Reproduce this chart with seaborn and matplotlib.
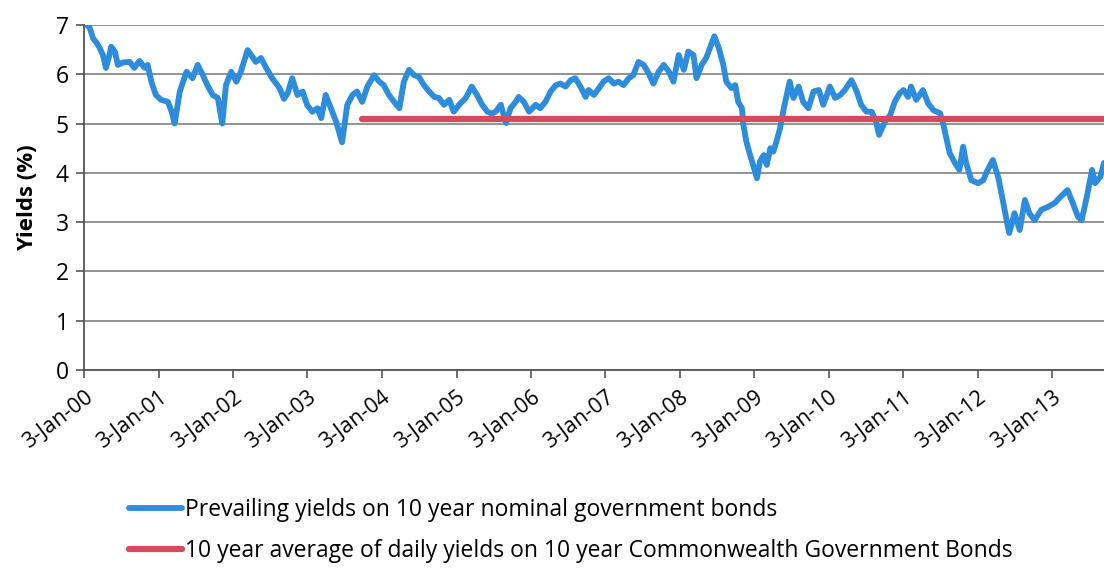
import pandas as pd
import numpy as np
import seaborn as sns
import matplotlib.pyplot as plt
from matplotlib.lines import Line2D

year_pos = [
    2000.01, 2000.08, 2000.13, 2000.17, 2000.21, 2000.26, 2000.30, 2000.34, 2000.37, 2000.42,
    2000.46, 2000.53, 2000.62, 2000.68, 2000.75, 2000.82, 2000.86, 2000.91, 2000.97, 2001.04,
    2001.13, 2001.18, 2001.22, 2001.29, 2001.38, 2001.46, 2001.53, 2001.60, 2001.66, 2001.73,
    2001.80, 2001.86, 2001.91, 2001.98, 2002.05, 2002.11, 2002.20, 2002.25, 2002.31, 2002.38,
    2002.45, 2002.53, 2002.63, 2002.69, 2002.74, 2002.80, 2002.87, 2002.94, 2003.00, 2003.07,
    2003.14, 2003.19, 2003.25, 2003.32, 2003.39, 2003.47, 2003.54, 2003.61, 2003.67, 2003.74,
    2003.81, 2003.90, 2003.97, 2004.03, 2004.10, 2004.17, 2004.24, 2004.30, 2004.37, 2004.44,
    2004.50, 2004.57, 2004.64, 2004.71, 2004.77, 2004.84, 2004.91, 2004.97, 2005.04, 2005.13,
    2005.21, 2005.28, 2005.35, 2005.42, 2005.48, 2005.53, 2005.60, 2005.67, 2005.73, 2005.80,
    2005.84, 2005.91, 2005.98, 2006.07, 2006.13, 2006.20, 2006.27, 2006.34, 2006.40, 2006.47,
    2006.54, 2006.60, 2006.67, 2006.74, 2006.78, 2006.85, 2006.92, 2006.98, 2007.05, 2007.12,
    2007.18, 2007.25, 2007.32, 2007.38, 2007.45, 2007.52, 2007.59, 2007.65, 2007.72, 2007.79,
    2007.86, 2007.92, 2007.99, 2008.06, 2008.12, 2008.19, 2008.23, 2008.30, 2008.36, 2008.41,
    2008.47, 2008.53, 2008.59, 2008.63, 2008.70, 2008.75, 2008.79, 2008.84, 2008.86, 2008.90,
    2008.95, 2008.99, 2009.04, 2009.08, 2009.13, 2009.17, 2009.22, 2009.26, 2009.30, 2009.35,
    2009.40, 2009.44, 2009.48, 2009.53, 2009.60, 2009.66, 2009.73, 2009.80, 2009.87, 2009.93,
    2010.02, 2010.09, 2010.16, 2010.22, 2010.31, 2010.38, 2010.44, 2010.51, 2010.58, 2010.64,
    2010.68, 2010.76, 2010.83, 2010.89, 2010.96, 2011.01, 2011.07, 2011.11, 2011.18, 2011.27,
    2011.34, 2011.41, 2011.50, 2011.54, 2011.58, 2011.63, 2011.70, 2011.76, 2011.81, 2011.85,
    2011.92, 2012.01, 2012.08, 2012.14, 2012.21, 2012.28, 2012.35, 2012.41, 2012.43, 2012.50,
    2012.57, 2012.64, 2012.70, 2012.77, 2012.86, 2012.95, 2013.04, 2013.12, 2013.21, 2013.28,
    2013.35, 2013.40, 2013.47, 2013.54, 2013.58, 2013.65, 2013.70,
]
yields = [
    7.05, 6.95, 6.72, 6.65, 6.55, 6.39, 6.13, 6.35, 6.56, 6.46,
    6.19, 6.24, 6.25, 6.13, 6.27, 6.13, 6.19, 5.85, 5.58, 5.48,
    5.44, 5.24, 5.00, 5.65, 6.05, 5.92, 6.19, 5.98, 5.78, 5.58,
    5.52, 5.00, 5.78, 6.05, 5.85, 6.05, 6.49, 6.39, 6.25, 6.33,
    6.13, 5.92, 5.72, 5.50, 5.62, 5.92, 5.58, 5.65, 5.38, 5.24,
    5.31, 5.11, 5.58, 5.31, 5.04, 4.62, 5.38, 5.58, 5.65, 5.44,
    5.75, 5.98, 5.85, 5.78, 5.58, 5.44, 5.31, 5.85, 6.09, 5.98,
    5.95, 5.78, 5.65, 5.54, 5.52, 5.38, 5.48, 5.24, 5.38, 5.52,
    5.75, 5.58, 5.38, 5.24, 5.20, 5.24, 5.38, 5.01, 5.31, 5.44,
    5.54, 5.44, 5.24, 5.38, 5.31, 5.44, 5.65, 5.78, 5.81, 5.75,
    5.88, 5.92, 5.75, 5.54, 5.68, 5.58, 5.72, 5.85, 5.92, 5.81,
    5.85, 5.78, 5.92, 5.98, 6.25, 6.19, 6.01, 5.81, 6.05, 6.19,
    6.05, 5.85, 6.39, 6.09, 6.46, 6.39, 5.92, 6.19, 6.33, 6.53,
    6.77, 6.53, 6.19, 5.85, 5.72, 5.78, 5.44, 5.31, 4.97, 4.63,
    4.36, 4.16, 3.89, 4.23, 4.36, 4.16, 4.50, 4.43, 4.63, 4.90,
    5.31, 5.58, 5.85, 5.52, 5.75, 5.44, 5.31, 5.65, 5.68, 5.38,
    5.75, 5.52, 5.58, 5.68, 5.88, 5.65, 5.38, 5.24, 5.24, 5.04,
    4.77, 5.04, 5.17, 5.44, 5.62, 5.68, 5.54, 5.75, 5.48, 5.68,
    5.41, 5.27, 5.21, 5.01, 4.73, 4.40, 4.20, 4.06, 4.53, 4.20,
    3.85, 3.79, 3.85, 4.06, 4.26, 3.92, 3.39, 2.91, 2.78, 3.18,
    2.84, 3.45, 3.18, 3.04, 3.25, 3.31, 3.39, 3.52, 3.65, 3.39,
    3.11, 3.04, 3.52, 4.06, 3.79, 3.92, 4.20,
]

# 10 year average line
avg_pos = [2003.74, 2013.70]
avg_vals = [5.09, 5.09]

tick_years = list(range(2000, 2014))
labels = ["Prevailing yields on 10 year nominal government bonds",
          "10 year average of daily yields on 10 year Commonwealth Government Bonds"]

BLUE = "#2d8cdb"
RED = "#d64a5e"


def to_date(y):
    base = pd.Timestamp(year=int(y), month=1, day=1)
    return base + pd.Timedelta(days=(y - int(y)) * 365.25)


df = pd.DataFrame({"date": [to_date(v) for v in year_pos], "yield": yields})
df_avg = pd.DataFrame({"date": [to_date(v) for v in avg_pos], "yield": avg_vals})

sns.set_style("white")
plt.rcParams["font.family"] = ["Open Sans", "DejaVu Sans"]
plt.rcParams["text.color"] = "black"
plt.rcParams["axes.labelcolor"] = "black"
plt.rcParams["xtick.color"] = "black"
plt.rcParams["ytick.color"] = "black"

fig = plt.figure(figsize=(11.04, 5.70), dpi=100)
ax = fig.add_axes([0.0761, 0.3509, 0.9239, 0.6053])

sns.lineplot(data=df, x="date", y="yield", ax=ax, color=BLUE, linewidth=4.2)
sns.lineplot(data=df_avg, x="date", y="yield", ax=ax, color=RED, linewidth=4.5)

ax.set_ylim(0, 7)
ax.set_yticks(range(0, 8))
ax.set_xlim(pd.Timestamp("2000-01-03"), to_date(2013.70))

ticks = [pd.Timestamp(f"{y}-01-03") for y in tick_years]
ax.set_xticks(ticks)
ax.set_xticklabels([f"3-Jan-{y % 100:02d}" for y in tick_years],
                   rotation=37, ha="right", rotation_mode="anchor")

ax.grid(axis="y", color="#8a8a8a", linewidth=1.3)
ax.set_axisbelow(True)
for s in ["top", "right"]:
    ax.spines[s].set_visible(False)
ax.spines["left"].set_color("#555555")
ax.spines["bottom"].set_color("#555555")
ax.spines["left"].set_linewidth(1.3)
ax.spines["bottom"].set_linewidth(1.3)

ax.tick_params(axis="y", which="both", left=True, length=6, width=1.2, color="#555555",
               labelsize=16.5, pad=5)
ax.tick_params(axis="x", which="both", bottom=True, length=6, width=1.2, color="#555555",
               labelsize=15.5, pad=6)

ax.set_xlabel("")
ax.set_ylabel("Yields (%)", fontsize=16, fontweight="bold", labelpad=13)

handles = [Line2D([], [], color=BLUE, linewidth=4.2),
           Line2D([], [], color=RED, linewidth=4.5)]
fig.legend(handles, labels, loc="upper left", bbox_to_anchor=(0.117, 0.126),
           frameon=False, fontsize=16.5, handlelength=2.3, handletextpad=0.12,
           labelspacing=0.75, borderpad=0, borderaxespad=0)

fig.savefig("out.png", dpi=100)
